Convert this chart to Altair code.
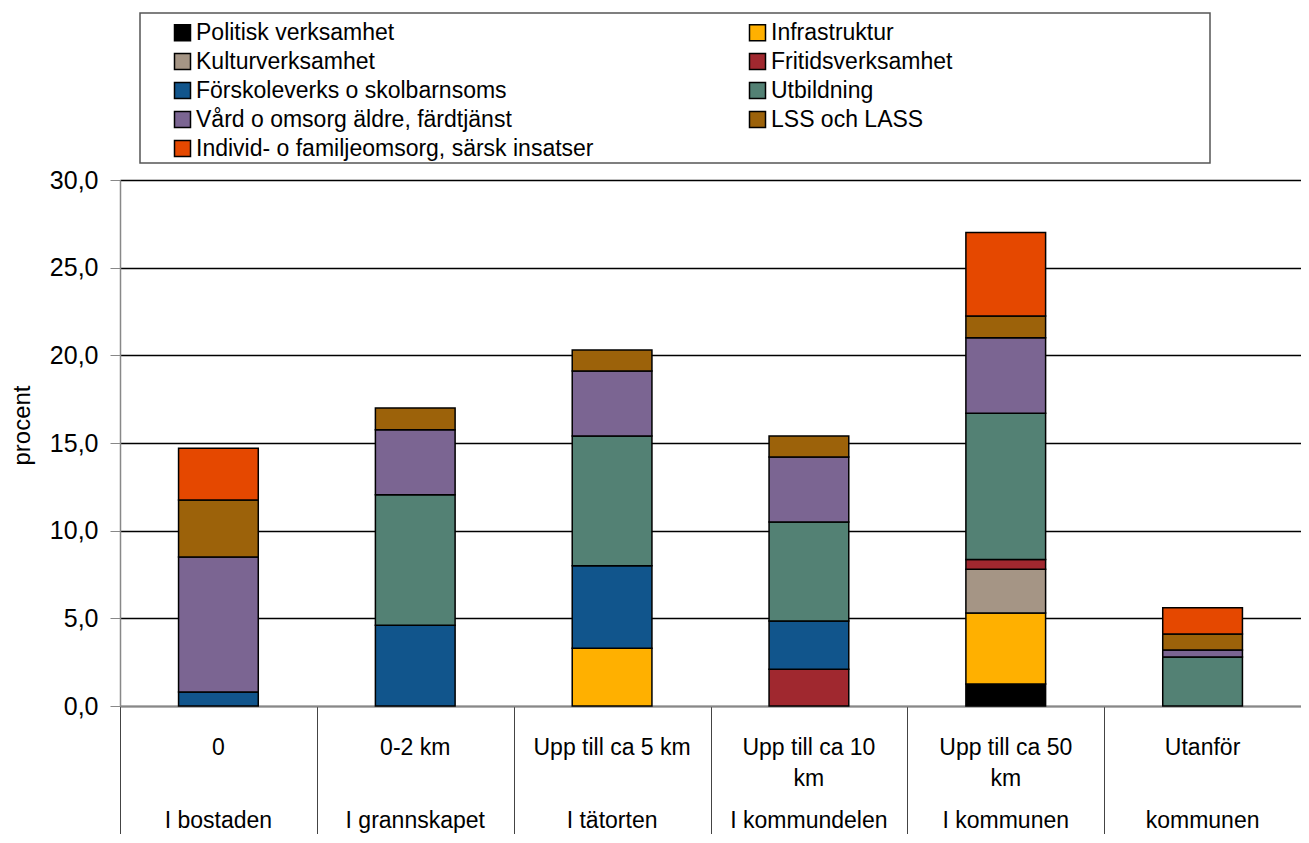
import altair as alt
import pandas as pd

# Categories (two-row axis labels)
row1 = ["0", "0-2 km", "Upp till ca 5 km", "Upp till ca 10\nkm", "Upp till ca 50\nkm", "Utanför"]
row2 = ["I bostaden", "I grannskapet", "I tätorten", "I kommundelen", "I kommunen", "kommunen"]
cats = ["I bostaden", "I grannskapet", "I tätorten", "I kommundelen", "I kommunen", "Utanför kommunen"]

series = ["Politisk verksamhet", "Infrastruktur", "Kulturverksamhet", "Fritidsverksamhet",
          "Förskoleverks o skolbarnsoms", "Utbildning", "Vård o omsorg äldre, färdtjänst",
          "LSS och LASS", "Individ- o familjeomsorg, särsk insatser"]
colors = ["#000000", "#FFB000", "#A59585", "#A0282F", "#11558C", "#538174", "#7B6592",
          "#9C620A", "#E54800"]

politisk = [0, 0, 0, 0, 1.25, 0]
infrastruktur = [0, 0, 3.3, 0, 4.05, 0]
kultur = [0, 0, 0, 0, 2.5, 0]
fritid = [0, 0, 0, 2.1, 0.55, 0]
forskola = [0.8, 4.6, 4.7, 2.75, 0, 0]
utbildning = [0, 7.45, 7.4, 5.65, 8.35, 2.8]
vard = [7.7, 3.7, 3.7, 3.7, 4.3, 0.4]
lss = [3.25, 1.25, 1.2, 1.2, 1.25, 0.9]
individ = [2.95, 0, 0, 0, 4.75, 1.5]

values = [politisk, infrastruktur, kultur, fritid, forskola, utbildning, vard, lss, individ]

rows = []
for i, (name, vals) in enumerate(zip(series, values)):
    for c, v in zip(cats, vals):
        if v > 0:
            rows.append({"cat": c, "serie": name, "value": v, "idx": i})
df = pd.DataFrame(rows)
lab = pd.DataFrame({"cat": cats, "row1": row1, "row2": row2})

W, H = 1181, 526
FONT = "Liberation Sans"

xenc = alt.X("cat:N", sort=cats, scale=alt.Scale(paddingInner=0, paddingOuter=0),
             axis=alt.Axis(title=None, labels=False, ticks=True, tickBand="extent",
                           tickSize=130, tickColor="#444444", tickWidth=1,
                           domainColor="#888888", domainWidth=1.5))

bars = alt.Chart(df).mark_bar(width=alt.RelativeBandSize(0.405), stroke="black",
                              strokeWidth=1.5).encode(
    x=xenc,
    y=alt.Y("value:Q", stack="zero",
            scale=alt.Scale(domain=[0, 30], nice=False),
            axis=alt.Axis(title="procent", values=[0, 5, 10, 15, 20, 25, 30],
                          labelExpr="replace(format(datum.value, '.1f'), '.', ',')",
                          labelFontSize=25, labelFont=FONT, labelColor="black",
                          labelPadding=12, tickSize=10, tickColor="#888888",
                          domainColor="#888888", domainWidth=1.5,
                          grid=True, gridColor="black", gridWidth=1.5,
                          titleFont=FONT, titleFontSize=24, titleFontWeight="normal",
                          titleColor="black", titleAngle=-90, titleX=-91, titleY=245,
                          titleAlign="center", titleBaseline="alphabetic")),
    color=alt.Color("serie:N", scale=alt.Scale(domain=series, range=colors),
                    legend=alt.Legend(title=None, orient="none", legendX=51, legendY=-159,
                                      columns=2, direction="horizontal",
                                      columnPadding=152, rowPadding=5,
                                      symbolType="square", symbolSize=256,
                                      symbolStrokeColor="black", symbolStrokeWidth=1.5,
                                      labelFont=FONT, labelFontSize=23, labelColor="black",
                                      labelLimit=1000, labelOffset=2, padding=0)),
    order=alt.Order("idx:Q", sort="ascending"),
)

text1 = alt.Chart(lab).mark_text(font=FONT, fontSize=23, baseline="alphabetic",
                                 align="center", lineBreak="\n", lineHeight=31,
                                 color="black").encode(
    x=alt.X("cat:N", sort=cats), y=alt.value(H + 49), text="row1:N")

text2 = alt.Chart(lab).mark_text(font=FONT, fontSize=23, baseline="alphabetic",
                                 align="center", color="black").encode(
    x=alt.X("cat:N", sort=cats), y=alt.value(H + 122), text="row2:N")

box = alt.Chart(pd.DataFrame({"a": [0]})).mark_rect(fill="white", stroke="#555555",
                                                     strokeWidth=1.5).encode(
    x=alt.value(20), x2=alt.value(1090), y=alt.value(-167), y2=alt.value(-17))

chart = alt.layer(box, bars, text1, text2).properties(
    width=W, height=H,
    autosize=alt.AutoSizeParams(type="none"),
    padding={"left": 112, "top": 172, "right": 0, "bottom": 128},
).configure_view(strokeWidth=0)

chart.save("out.html", embed_options={"renderer": "svg", "actions": False})
